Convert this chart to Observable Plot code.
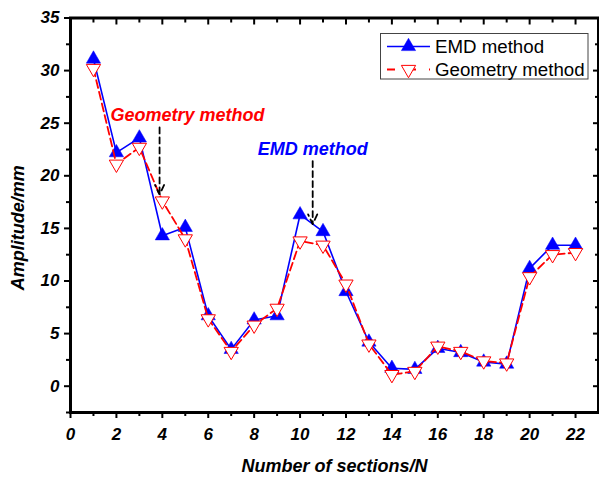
<!DOCTYPE html>
<html>
<head>
<meta charset="utf-8">
<script src="https://cdn.jsdelivr.net/npm/d3@7"></script>
<script src="https://cdn.jsdelivr.net/npm/@observablehq/plot@0.6"></script>
<style>
  html, body { margin: 0; padding: 0; background: #fff; }
  #chart svg { display: block; }
</style>
</head>
<body>
<div id="chart"></div>
<script>
const sections = [1, 2, 3, 4, 5, 6, 7, 8, 9, 10, 11, 12, 13, 14, 15, 16, 17, 18, 19, 20, 21, 22];
const emdValues = [31.1, 22.2, 23.6, 14.3, 15.1, 6.7, 3.5, 6.3, 6.7, 16.3, 14.7, 9.0, 4.2, 1.7, 1.6, 3.6, 3.2, 2.3, 2.1, 11.2, 13.4, 13.4];
const geometryValues = [30.2, 21.1, 22.7, 17.6, 14.0, 6.4, 3.3, 5.8, 7.4, 13.8, 13.4, 9.7, 4.0, 1.1, 1.4, 3.8, 3.3, 2.4, 2.2, 10.4, 12.5, 12.7];
const seriesNames = ["EMD method", "Geometry method"];
const xMajorTicks = [0, 2, 4, 6, 8, 10, 12, 14, 16, 18, 20, 22];
const xMinorTicks = [1, 3, 5, 7, 9, 11, 13, 15, 17, 19, 21];
const yMajorTicks = [0, 5, 10, 15, 20, 25, 30, 35];
const yMinorTicks = [-2.5, 2.5, 7.5, 12.5, 17.5, 22.5, 27.5, 32.5];
const annotationLabels = ["Geometry method", "EMD method"];
const annotationTextX = [1.74, 8.16];
const annotationTextY = [25.2, 22.0];
const arrowX = [3.88, 10.55];
const arrowTopY = [24.6, 21.4];
const arrowTipY = [18.2, 15.4];
const xTitle = "Number of sections/N";
const yTitle = "Amplitude/mm";

const BLUE = "#0000ff", RED = "#ff0000";
const FONT = "'Liberation Sans', Arial, Helvetica, sans-serif";

const emd = sections.map((s, i) => ({x: s, y: emdValues[i]}));
const geo = sections.map((s, i) => ({x: s, y: geometryValues[i]}));
const annots = annotationLabels.map((t, i) => ({t, x: annotationTextX[i], y: annotationTextY[i], color: i === 0 ? RED : BLUE}));
const arrows = arrowX.map((x, i) => ({x, y1: arrowTopY[i], y2: arrowTipY[i]}));

const triangleDown = {
  draw(context, size) {
    const y = -Math.sqrt(size / (Math.sqrt(3) * 3));
    context.moveTo(0, -y * 2);
    context.lineTo(-Math.sqrt(3) * y, y);
    context.lineTo(Math.sqrt(3) * y, y);
    context.closePath();
  }
};

const tickText = {fontSize: 17, fontWeight: "bold", fontStyle: "italic", fontFamily: FONT};

const chart = Plot.plot({
  width: 599,
  height: 477,
  marginLeft: 70,
  marginRight: 1,
  marginTop: 17.5,
  marginBottom: 65,
  x: {domain: [0, 23]},
  y: {domain: [-2.5, 35]},
  style: {fontFamily: FONT, background: "white", color: "black"},
  marks: [
    // bottom axis
    Plot.axisX({anchor: "bottom", ticks: xMajorTicks, tickSize: 6, tickPadding: 9, strokeWidth: 2, tickFormat: d => String(d), label: null, ...tickText}),
    Plot.axisX({anchor: "bottom", ticks: xMinorTicks, tickSize: 4, strokeWidth: 2, tickFormat: () => "", label: null}),
    // top axis (inward)
    Plot.axisX({anchor: "top", ticks: xMajorTicks, tickSize: -6, strokeWidth: 2, tickFormat: () => "", label: null}),
    Plot.axisX({anchor: "top", ticks: xMinorTicks, tickSize: -4, strokeWidth: 2, tickFormat: () => "", label: null}),
    // left axis
    Plot.axisY({anchor: "left", ticks: yMajorTicks, tickSize: 6, tickPadding: 5, strokeWidth: 2, tickFormat: d => String(d), label: null, ...tickText}),
    Plot.axisY({anchor: "left", ticks: yMinorTicks, tickSize: 4, strokeWidth: 2, tickFormat: () => "", label: null}),
    // right axis (inward)
    Plot.axisY({anchor: "right", ticks: yMajorTicks, tickSize: -6, strokeWidth: 2, tickFormat: () => "", label: null}),
    Plot.axisY({anchor: "right", ticks: yMinorTicks, tickSize: -4, strokeWidth: 2, tickFormat: () => "", label: null}),
    Plot.frame({stroke: "black", strokeWidth: 3}),
    // axis titles
    Plot.text([xTitle], {frameAnchor: "bottom", dy: 54, text: d => d, textAnchor: "middle", lineAnchor: "middle", fontSize: 18, fontWeight: "bold", fontStyle: "italic", fontFamily: FONT, fill: "black"}),
    Plot.text([yTitle], {frameAnchor: "left", dx: -52, dy: 75, rotate: -90, text: d => d, textAnchor: "start", lineAnchor: "middle", fontSize: 18, fontWeight: "bold", fontStyle: "italic", fontFamily: FONT, fill: "black"}),
    // EMD series
    Plot.line(emd, {x: "x", y: "y", stroke: BLUE, strokeWidth: 1.6}),
    Plot.dot(emd, {x: "x", y: "y", symbol: "triangle", r: 5.3, fill: BLUE, stroke: BLUE, strokeWidth: 0.5}),
    // Geometry series
    Plot.line(geo, {x: "x", y: "y", stroke: RED, strokeWidth: 1.8, strokeDasharray: "8,4"}),
    Plot.dot(geo, {x: "x", y: "y", symbol: triangleDown, r: 5.3, fill: "white", stroke: RED, strokeWidth: 1}),
    // annotations
    Plot.arrow(arrows, {x: "x", y1: "y1", y2: "y2", stroke: "black", strokeWidth: 1.8, strokeDasharray: "6,4", headLength: 9, headAngle: 50, bend: 0}),
    Plot.text(annots, {x: "x", y: "y", text: "t", fill: "color", textAnchor: "start", lineAnchor: "bottom", fontSize: 18, fontWeight: "bold", fontStyle: "italic", fontFamily: FONT})
  ]
});

document.getElementById("chart").appendChild(chart);

// Legend drawn inside the plot area
const svg = d3.select(chart);
const lg = svg.append("g").attr("font-family", FONT).attr("font-size", 18.7).attr("text-anchor", "start");
lg.append("rect").attr("x", 380.5).attr("y", 33.5).attr("width", 207.5).attr("height", 45.5)
  .attr("fill", "white").attr("stroke", "#444").attr("stroke-width", 1);
const rows = [
  {name: seriesNames[0], y: 46.5, color: BLUE, dash: null, sym: d3.symbolTriangle, fill: BLUE},
  {name: seriesNames[1], y: 69.5, color: RED, dash: "8,13", sym: triangleDown, fill: "white"}
];
const symSize = Math.PI * 5.3 * 5.3;
rows.forEach(r => {
  const l = lg.append("line").attr("x1", 387).attr("x2", 430).attr("y1", r.y).attr("y2", r.y)
    .attr("stroke", r.color).attr("stroke-width", r.dash ? 1.8 : 1.6);
  if (r.dash) l.attr("stroke-dasharray", r.dash);
  lg.append("path").attr("d", d3.symbol(r.sym, symSize)()).attr("transform", `translate(408.5,${r.y})`)
    .attr("fill", r.fill).attr("stroke", r.color).attr("stroke-width", r.dash ? 1 : 0.5);
  lg.append("text").attr("x", 435).attr("y", r.y + 6.5).attr("fill", "black").attr("text-anchor", "start").text(r.name);
});
</script>
</body>
</html>
